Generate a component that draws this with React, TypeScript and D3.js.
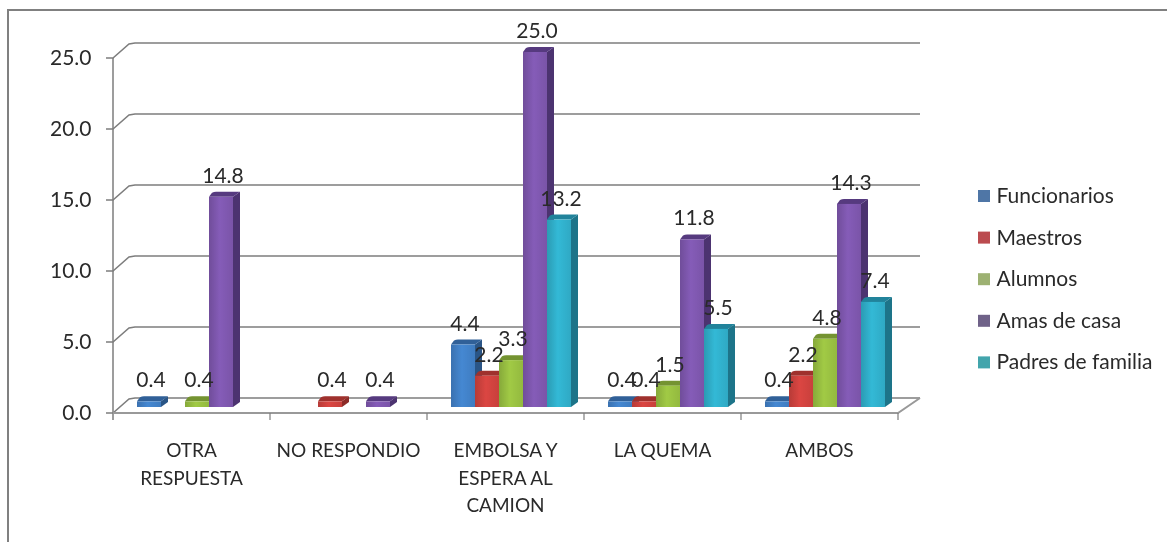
import React from "react";
import * as d3 from "d3";

const categories = ["OTRA RESPUESTA", "NO RESPONDIO", "EMBOLSA Y ESPERA AL CAMION", "LA QUEMA", "AMBOS"];
const categoryLines = [["OTRA", "RESPUESTA"], ["NO RESPONDIO"], ["EMBOLSA Y", "ESPERA AL", "CAMION"], ["LA QUEMA"], ["AMBOS"]];
const seriesNames = ["Funcionarios", "Maestros", "Alumnos", "Amas de casa", "Padres de familia"];
const funcionarios = [0.4, null, 4.4, 0.4, 0.4];
const maestros = [null, 0.4, 2.2, 0.4, 2.2];
const alumnos = [0.4, null, 3.3, 1.5, 4.8];
const amasDeCasa = [14.8, 0.4, 25.0, 11.8, 14.3];
const padresDeFamilia = [null, null, 13.2, 5.5, 7.4];
const seriesValues = [funcionarios, maestros, alumnos, amasDeCasa, padresDeFamilia];
const colors = ["#3f7cc0", "#c8403c", "#93b93f", "#7a54a8", "#2fa9c4"];
const darkColors = ["#2a5586", "#8c2b28", "#66822b", "#4c3370", "#1d7489"];
const legendColors = ["#4f76a6", "#bb4b4f", "#9db172", "#6f6288", "#42a5ac"];
const yTicks = [0, 5, 10, 15, 20, 25];

const FONT = "Lato, 'Open Sans', sans-serif";
const TEXT = "#2a2a2a";
const LINE = "#7d7d7d";

export default function App() {
  const depthX = 22, depthY = 15;
  const x = d3.scaleBand<number>().domain(d3.range(categories.length)).range([113, 898]);
  const inner = d3.scaleBand<number>().domain(d3.range(seriesNames.length)).range([24, 144]);
  const y = d3.scaleLinear().domain([0, 25]).range([413, 58]);
  const barBase = 407, bd = 7;
  const h = (v: number) => y(0) - y(v);

  return (
    <svg width={1167} height={542} style={{ position: "absolute", left: 0, top: 0, background: "#fff", filter: "blur(0.45px)" }} fontFamily={FONT}>
      <defs>
        {colors.map((c, i) => (
          <linearGradient key={i} id={`g${i}`} x1="0" x2="1" y1="0" y2="0">
            <stop offset="0" stopColor={d3.color(c)!.darker(0.25).formatHex()} />
            <stop offset="0.45" stopColor={d3.color(c)!.brighter(0.25).formatHex()} />
            <stop offset="1" stopColor={c} />
          </linearGradient>
        ))}
      </defs>
      <rect x={8} y={10} width={1180} height={560} fill="#fff" stroke="#808080" strokeWidth={2} />

      {/* back grid */}
      {yTicks.map((t) => (
        <g key={t} fill="none" stroke={LINE} strokeWidth={1.5}>
          <path d={`M106,${y(t)}H113L${113 + 16},${y(t) - depthY + 1}L${113 + depthX},${y(t) - depthY}H${898 + depthX}`} />
          <text x={91.5} y={y(t) + 7} fontSize={21} fill={TEXT} stroke="none" textAnchor="end">{t.toFixed(1)}</text>
        </g>
      ))}
      <line x1={113} x2={113} y1={y(25)} y2={y(0) + 7} stroke={LINE} strokeWidth={1.5} />
      <path d={`M113,${y(0)}H898L${898 + depthX},${y(0) - depthY}`} fill="none" stroke="#999" strokeWidth={2} />
      {d3.range(categories.length).map((i) => (
        <line key={i} x1={x(i)! + x.bandwidth()} x2={x(i)! + x.bandwidth()} y1={y(0)} y2={y(0) + 7} stroke={LINE} strokeWidth={1.2} />
      ))}

      {/* bars */}
      {categories.map((_, ci) => (
        <g key={ci}>
          {[0, 1, 2, 3, 4].map((si) => {
            const v = seriesValues[si][ci];
            if (v == null) return null;
            const bx = x(ci)! + inner(si)!;
            const w = inner.bandwidth();
            const top = barBase - h(v);
            return (
              <g key={si}>
                <path d={`M${bx + w},${top}L${bx + w + bd},${top - 5}V${barBase - 5}L${bx + w},${barBase}Z`} fill={darkColors[si]} />
                <path d={`M${bx},${top}L${bx + 3},${top - 4}Q${bx + 5},${top - 5} ${bx + 7},${top - 5}H${bx + w + bd}L${bx + w},${top}Z`} fill={d3.color(darkColors[si])!.brighter(0.35).formatHex()} />
                <rect x={bx} y={top} width={w} height={Math.max(barBase - top, 0)} fill={`url(#g${si})`} />
              </g>
            );
          })}
        </g>
      ))}

      {/* data labels */}
      {categories.map((_, ci) => (
        <g key={ci}>
          {[0, 1, 2, 3, 4].map((si) => {
            const v = seriesValues[si][ci];
            if (v == null) return null;
            const bx = x(ci)! + inner(si)!;
            return (
              <text key={si} x={bx + inner.bandwidth() / 2 + 2} y={barBase - h(v) - 14} fontSize={21} fill={TEXT} textAnchor="middle">
                {v.toFixed(1)}
              </text>
            );
          })}
        </g>
      ))}

      {/* category labels */}
      {categoryLines.map((lines, ci) => (
        <text key={ci} fontSize={19} fill={TEXT} textAnchor="middle">
          {lines.map((l, li) => (
            <tspan key={li} x={x(ci)! + x.bandwidth() / 2} y={457 + li * 27.5}>{l}</tspan>
          ))}
        </text>
      ))}

      {/* legend */}
      {seriesNames.map((s, i) => (
        <g key={s}>
          <rect x={978} y={190 + i * 41.6} width={12} height={12} fill={legendColors[i]} />
          <text x={996.5} y={203 + i * 41.6} fontSize={21} fill={TEXT}>{s}</text>
        </g>
      ))}
    </svg>
  );
}
